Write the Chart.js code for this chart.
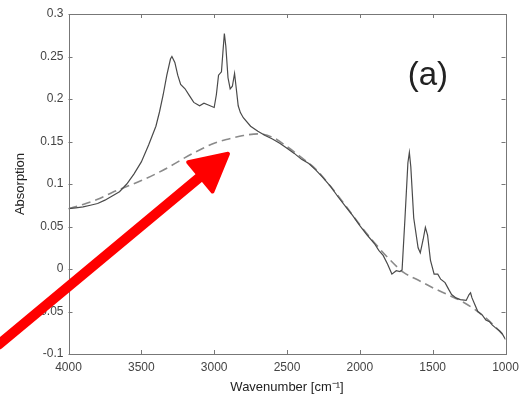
<!DOCTYPE html>
<html>
<head>
<meta charset="utf-8">
<script src="https://cdn.jsdelivr.net/npm/chart.js@4"></script>
<style>
  html, body { margin: 0; padding: 0; background: #fff; }
  #wrap { width: 519px; height: 400px; }
</style>
</head>
<body>
<div id="wrap"><canvas id="c" width="519" height="400"></canvas></div>
<script>
// Measured spectrum (solid)
const spectrumX = [4000,3950,3900,3850,3800,3750,3700,3650,3600,3550,3500,3450,3400,3375,3350,3325,3300,3290,3270,3250,3230,3200,3170,3140,3100,3070,3040,3000,2985,2970,2950,2940,2930,2920,2905,2890,2875,2860,2850,2835,2820,2800,2750,2700,2650,2600,2550,2500,2450,2400,2350,2300,2250,2200,2150,2100,2050,2000,1950,1900,1870,1840,1810,1780,1750,1725,1710,1690,1670,1660,1650,1630,1600,1585,1565,1550,1535,1515,1490,1465,1445,1415,1390,1370,1340,1310,1270,1250,1240,1230,1210,1190,1160,1135,1110,1090,1070,1040,1020,1000];
const spectrumY = [0.071,0.072,0.073,0.075,0.077,0.081,0.086,0.091,0.100,0.112,0.126,0.146,0.168,0.185,0.205,0.228,0.247,0.250,0.243,0.228,0.217,0.212,0.204,0.196,0.192,0.195,0.193,0.190,0.205,0.228,0.232,0.255,0.277,0.262,0.225,0.212,0.215,0.230,0.215,0.192,0.184,0.178,0.168,0.162,0.157,0.153,0.148,0.142,0.136,0.129,0.124,0.116,0.107,0.097,0.085,0.074,0.063,0.051,0.040,0.030,0.022,0.016,0.006,-0.006,-0.002,-0.003,-0.001,0.060,0.125,0.137,0.120,0.060,0.025,0.019,0.035,0.049,0.040,0.010,-0.006,-0.006,-0.012,-0.016,-0.024,-0.030,-0.034,-0.036,-0.037,-0.030,-0.028,-0.034,-0.042,-0.050,-0.054,-0.060,-0.062,-0.066,-0.069,-0.073,-0.077,-0.083];
// Baseline (dashed)
const baselineX = [4000,3900,3800,3700,3600,3500,3400,3300,3200,3100,3000,2900,2800,2700,2600,2500,2400,2300,2200,2100,2000,1900,1800,1700,1600,1500,1400,1300,1200,1100,1000];
const baselineY = [0.071,0.076,0.082,0.090,0.097,0.104,0.112,0.121,0.131,0.140,0.148,0.153,0.157,0.159,0.155,0.144,0.131,0.117,0.097,0.075,0.052,0.031,0.012,-0.004,-0.013,-0.022,-0.030,-0.038,-0.049,-0.063,-0.080];
// Tick labels
const xTickValues = [4000,3500,3000,2500,2000,1500,1000];
const xTickLabels = ['4000','3500','3000','2500','2000','1500','1000'];
const yTickValues = [0.3,0.25,0.2,0.15,0.1,0.05,0,-0.05,-0.1];
const yTickLabels = ['0.3','0.25','0.2','0.15','0.1','0.05','0','-0.05','-0.1'];
// Annotations (data coordinates)
const panelLabel = '(a)';
const panelLabelAt = [1533, 0.227];
const arrowFrom = [4480, -0.089];
const arrowTo = [2905, 0.1356];

const FONT = '"Liberation Sans", Arial, sans-serif';

const boxPlugin = {
  id: 'boxTicks',
  afterDatasetsDraw(chart) {
    const {ctx, chartArea: a, scales} = chart;
    const xs = scales.x, ys = scales.y;
    ctx.save();
    ctx.strokeStyle = '#777';
    ctx.lineWidth = 1;
    ctx.strokeRect(Math.round(a.left) + 0.5, Math.round(a.top) + 0.5, Math.round(a.right - a.left), Math.round(a.bottom - a.top));
    const L = 4;
    ctx.beginPath();
    xTickValues.forEach(v => {
      const px = Math.round(xs.getPixelForValue(v)) + 0.5;
      ctx.moveTo(px, a.bottom); ctx.lineTo(px, a.bottom - L);
      ctx.moveTo(px, a.top); ctx.lineTo(px, a.top + L);
    });
    yTickValues.forEach(v => {
      const py = Math.round(ys.getPixelForValue(v)) + 0.5;
      ctx.moveTo(a.left, py); ctx.lineTo(a.left + L, py);
      ctx.moveTo(a.right, py); ctx.lineTo(a.right - L, py);
    });
    ctx.stroke();
    // panel label
    ctx.fillStyle = '#222';
    ctx.font = '33px ' + FONT;
    ctx.textAlign = 'center';
    ctx.textBaseline = 'middle';
    ctx.fillText(panelLabel, xs.getPixelForValue(panelLabelAt[0]), ys.getPixelForValue(panelLabelAt[1]));
    ctx.restore();
  },
  afterDraw(chart) {
    const {ctx, scales} = chart;
    const xs = scales.x, ys = scales.y;
    const x0 = xs.getPixelForValue(arrowFrom[0]), y0 = ys.getPixelForValue(arrowFrom[1]);
    const x1 = xs.getPixelForValue(arrowTo[0]), y1 = ys.getPixelForValue(arrowTo[1]);
    const ang = Math.atan2(y1 - y0, x1 - x0);
    const headLen = 36, headW = 19;
    const bx = x1 - headLen * Math.cos(ang), by = y1 - headLen * Math.sin(ang);
    ctx.save();
    ctx.strokeStyle = '#ff0000';
    ctx.fillStyle = '#ff0000';
    ctx.lineWidth = 10;
    ctx.lineCap = 'round';
    ctx.beginPath();
    ctx.moveTo(x0, y0);
    ctx.lineTo(bx + 6 * Math.cos(ang), by + 6 * Math.sin(ang));
    ctx.stroke();
    ctx.lineJoin = 'round';
    ctx.lineWidth = 4;
    ctx.beginPath();
    ctx.moveTo(x1, y1);
    ctx.lineTo(bx + headW * Math.sin(ang), by - headW * Math.cos(ang));
    ctx.lineTo(bx - headW * Math.sin(ang), by + headW * Math.cos(ang));
    ctx.closePath();
    ctx.fill();
    ctx.stroke();
    ctx.restore();
  }
};

function noPad(s) { s.paddingLeft = 0; s.paddingRight = 0; s.paddingTop = 0; s.paddingBottom = 0; }

new Chart(document.getElementById('c'), {
  type: 'line',
  data: {
    datasets: [
      {
        label: 'Spectrum',
        data: spectrumX.map((x, i) => ({x, y: spectrumY[i]})),
        borderColor: '#4a4a4a',
        borderWidth: 1.2,
        pointRadius: 0,
        tension: 0,
        fill: false
      },
      {
        label: 'Baseline',
        data: baselineX.map((x, i) => ({x, y: baselineY[i]})),
        borderColor: '#8a8a8a',
        borderWidth: 1.6,
        borderDash: [9, 5],
        pointRadius: 0,
        cubicInterpolationMode: 'monotone',
        fill: false
      }
    ]
  },
  options: {
    responsive: false,
    animation: false,
    devicePixelRatio: 1,
    layout: { padding: { left: 0, top: 14, right: 13.5, bottom: 0 } },
    plugins: { legend: { display: false }, tooltip: { enabled: false } },
    scales: {
      x: {
        type: 'linear',
        reverse: true,
        min: 1000,
        max: 4000,
        afterBuildTicks: s => { s.ticks = xTickValues.map(v => ({value: v})); },
        afterFit: s => { s.height = 46; noPad(s); },
        grid: { display: false, drawTicks: false },
        border: { display: false },
        ticks: {
          autoSkip: false,
          maxRotation: 0,
          padding: 6,
          color: '#444',
          font: { family: FONT, size: 12 },
          callback: (v) => xTickLabels[xTickValues.indexOf(v)]
        },
        title: {
          display: true,
          text: 'Wavenumber [cm\u207B\u00B9]',
          color: '#222',
          font: { family: FONT, size: 13 },
          padding: { top: 4, bottom: 5 }
        }
      },
      y: {
        type: 'linear',
        min: -0.1,
        max: 0.3,
        afterBuildTicks: s => { s.ticks = yTickValues.map(v => ({value: v})); },
        afterFit: s => { s.width = 68.5; noPad(s); },
        grid: { display: false, drawTicks: false },
        border: { display: false },
        ticks: {
          autoSkip: false,
          padding: 5,
          color: '#444',
          font: { family: FONT, size: 12 },
          callback: (v) => yTickLabels[yTickValues.findIndex(t => Math.abs(t - v) < 1e-9)]
        },
        title: {
          display: true,
          text: 'Absorption',
          color: '#222',
          font: { family: FONT, size: 13 },
          padding: { top: 13, bottom: 2 }
        }
      }
    }
  },
  plugins: [boxPlugin]
});
</script>
</body>
</html>
